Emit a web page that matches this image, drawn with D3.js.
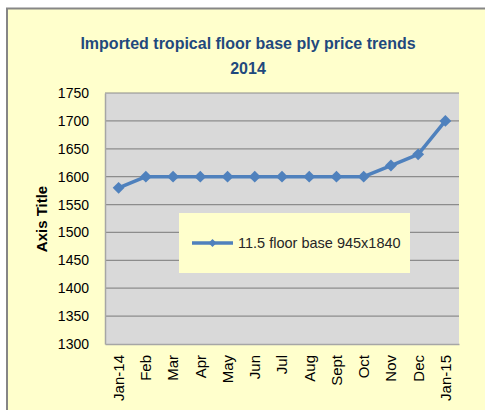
<!DOCTYPE html>
<html>
<head>
<meta charset="utf-8">
<script src="https://cdn.jsdelivr.net/npm/d3@7"></script>
<style>
  html, body { margin: 0; padding: 0; background: #fff; }
  svg { display: block; }
</style>
</head>
<body>
<div id="graph"></div>
<script>
// chart data
var g_months = ["Jan-14", "Feb", "Mar", "Apr", "May", "Jun", "Jul", "Aug", "Sept", "Oct", "Nov", "Dec", "Jan-15"];
var g_prices = [1580, 1600, 1600, 1600, 1600, 1600, 1600, 1600, 1600, 1600, 1620, 1640, 1700];
var g_y_ticks = [1300, 1350, 1400, 1450, 1500, 1550, 1600, 1650, 1700, 1750];
var g_series_name = "11.5 floor base 945x1840";
var g_title = ["Imported tropical floor base ply price trends", "2014"];

//----------------------------------------------------------
var g_svg = d3.select("#graph")
  .append("svg")
    .attr("width", 485)
    .attr("height", 410);

// chart frame (cropped at right and bottom like the picture)
g_svg.append("rect")
    .attr("x", 7)
    .attr("y", 8.5)
    .attr("width", 500)
    .attr("height", 420)
    .attr("fill", "#FFFFCC")
    .attr("stroke", "#868686")
    .attr("stroke-width", 2);

const plot = { left: 105, top: 93, right: 459, bottom: 344 };

var x = d3.scaleBand()
    .domain(g_months)
    .range([plot.left, plot.right]);

var y = d3.scaleLinear()
    .domain([1300, 1750])
    .range([plot.bottom, plot.top]);

// plot background
g_svg.append("rect")
    .attr("x", plot.left)
    .attr("y", plot.top)
    .attr("width", plot.right - plot.left)
    .attr("height", plot.bottom - plot.top)
    .attr("fill", "#D9D9D9");

// gridlines
g_svg.append("g")
  .selectAll("line")
  .data(g_y_ticks.slice(1))
  .join("line")
    .attr("x1", plot.left)
    .attr("x2", plot.right)
    .attr("y1", function (d) { return y(d); })
    .attr("y2", function (d) { return y(d); })
    .attr("stroke", "#8C8C8C")
    .attr("stroke-width", 1.2);

// y axis
var y_axis = g_svg.append("g")
    .attr("transform", "translate(" + plot.left + ",0)")
    .call(d3.axisLeft(y).tickValues(g_y_ticks).tickFormat(d3.format("d")).tickSize(0).tickPadding(16));
y_axis.select(".domain").attr("stroke", "#A6A6A6").attr("stroke-width", 1.5);
y_axis.selectAll("text")
    .attr("font-family", "Liberation Sans, Arial, sans-serif")
    .attr("font-size", "14px")
    .attr("fill", "#000");

// x axis
var x_axis = g_svg.append("g")
    .attr("transform", "translate(0," + plot.bottom + ")")
    .call(d3.axisBottom(x).tickSize(0).tickSizeOuter(0));
x_axis.select(".domain").attr("stroke", "#A6A6A6").attr("stroke-width", 1.5);
x_axis.selectAll("text")
    .attr("font-family", "Liberation Sans, Arial, sans-serif")
    .attr("font-size", "15px")
    .attr("fill", "#000")
    .attr("text-anchor", "end")
    .attr("dy", "0.36em")
    .attr("y", 0)
    .attr("transform", "translate(0,11) rotate(-90)");

// series line
var line = d3.line()
    .x(function (d, i) { return x(g_months[i]) + x.bandwidth() / 2; })
    .y(function (d) { return y(d); });

g_svg.append("path")
    .datum(g_prices)
    .attr("d", line)
    .attr("fill", "none")
    .attr("stroke", "#4F81BD")
    .attr("stroke-width", 3.5)
    .attr("stroke-linejoin", "round");

var diamond = d3.symbol().type(d3.symbolDiamond2).size(90);

g_svg.append("g")
  .selectAll("path")
  .data(g_prices)
  .join("path")
    .attr("transform", function (d, i) {
        return "translate(" + (x(g_months[i]) + x.bandwidth() / 2) + "," + y(d) + ")";
    })
    .attr("d", diamond)
    .attr("fill", "#4F81BD");

// title
g_svg.append("g")
  .selectAll("text")
  .data(g_title)
  .join("text")
    .attr("x", 248)
    .attr("y", function (d, i) { return 49 + i * 25; })
    .attr("text-anchor", "middle")
    .attr("font-family", "Liberation Sans, Arial, sans-serif")
    .attr("font-weight", "bold")
    .attr("font-size", "16px")
    .attr("fill", "#1F497D")
    .text(function (d) { return d; });

// axis title
g_svg.append("text")
    .attr("transform", "translate(47,219) rotate(-90)")
    .attr("text-anchor", "middle")
    .attr("font-family", "Liberation Sans, Arial, sans-serif")
    .attr("font-weight", "bold")
    .attr("font-size", "15px")
    .attr("fill", "#000")
    .text("Axis Title");

// legend
var legend = g_svg.append("g")
    .attr("transform", "translate(179,213)");
legend.append("rect")
    .attr("width", 231)
    .attr("height", 60)
    .attr("fill", "#FFFFCC");
legend.append("line")
    .attr("x1", 13)
    .attr("x2", 54)
    .attr("y1", 30)
    .attr("y2", 30)
    .attr("stroke", "#4F81BD")
    .attr("stroke-width", 3.5);
legend.append("path")
    .attr("transform", "translate(33.5,30)")
    .attr("d", d3.symbol().type(d3.symbolDiamond2).size(40))
    .attr("fill", "#4F81BD");
legend.append("text")
    .attr("x", 59)
    .attr("y", 35)
    .attr("font-family", "Liberation Sans, Arial, sans-serif")
    .attr("font-size", "14.5px")
    .attr("fill", "#262626")
    .text(g_series_name);
</script>
</body>
</html>
